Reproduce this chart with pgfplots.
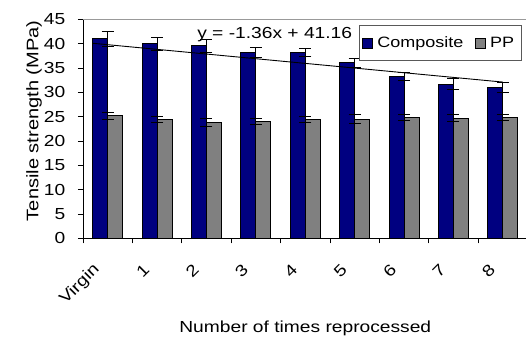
\documentclass[border=0pt]{standalone}
\usepackage{fontspec}
\setmainfont{Liberation Sans}[FakeStretch=1.2]
\usepackage{pgfplots}
\pgfplotsset{compat=1.18}
\definecolor{navybar}{HTML}{000080}
\definecolor{graybar}{HTML}{808080}
\newcommand{\chartfont}{\fontsize{16}{19}\selectfont}
\begin{document}
\begin{tikzpicture}
\path[use as bounding box] (-83pt,-98.7pt) rectangle (443pt,238.3pt);
\begin{axis}[
  at={(0,0)}, anchor=south west,
  scale only axis, width=444.6pt, height=219pt,
  xmin=-0.5, xmax=8.5, ymin=0, ymax=45,
  axis x line*=bottom, axis y line*=left,
  axis line style={black, line width=0.8pt, -},
  ytick={0,5,...,45},
  xtick={0,...,8},
  xticklabels={Virgin,1,2,3,4,5,6,7,8},
  minor xtick={-0.5,0.5,...,8.5},
  tick align=outside,
  major tick length=5pt, minor tick length=5pt,
  major x tick style={draw=none},
  minor x tick style={black, line width=0.8pt},
  ytick style={black, line width=0.8pt},
  /pgf/number format/assume math mode=true,
  tick label style={font=\chartfont},
  yticklabel style={inner sep=0pt, xshift=-12.5pt},
  xticklabel style={inner sep=0pt, xshift=-10.5pt, yshift=-24pt, rotate=45, anchor=east},
  every axis y label/.style={at={(axis description cs:-0.11,0.536)}, rotate=90, anchor=center, font=\fontsize{16.7}{20}\selectfont},
  every axis x label/.style={at={(axis description cs:0.5,-0.428)}, anchor=base, font=\chartfont},
  ylabel={Tensile strength (MPa)},
  xlabel={Number of times reprocessed},
  bar width=15pt,
  legend style={at={(axis description cs:0.621,0.974)}, anchor=north west,
    draw=gray!70!black, line width=0.8pt, font=\fontsize{15}{18}\selectfont,
    legend columns=2, inner xsep=3pt, inner ysep=6.5pt,
    nodes={inner xsep=4pt, inner ysep=5pt},
    /tikz/every even column/.append style={column sep=8pt}},
  legend image code/.code={\draw[#1, draw=black, line width=0.8pt] (0pt,-5pt) rectangle (10pt,5pt);},
]
\addplot[ybar, bar shift=-7.5pt, fill=navybar, draw=black, line width=0.8pt,
  error bars/.cd, y dir=both, y explicit,
  error bar style={black, line width=0.8pt},
  error mark options={rotate=90, mark size=6pt, line width=0.8pt, black}]
coordinates {
 (0,41.0) +- (0,1.5)
 (1,40.0) +- (0,1.3)
 (2,39.6) +- (0,1.3)
 (3,38.2) +- (0,1.1)
 (4,38.2) +- (0,0.8)
 (5,36.1) +- (0,0.9)
 (6,33.2) +- (0,0.8)
 (7,31.7) +- (0,1.1)
 (8,31.0) +- (0,1.1)
};
\addlegendentry{Composite}
\addplot[ybar, bar shift=7.5pt, fill=graybar, draw=black, line width=0.8pt,
  error bars/.cd, y dir=both, y explicit,
  error bar style={black, line width=0.8pt},
  error mark options={rotate=90, mark size=6pt, line width=0.8pt, black}]
coordinates {
 (0,25.2) +- (0,0.7)
 (1,24.5) +- (0,0.6)
 (2,23.8) +- (0,0.9)
 (3,24.1) +- (0,0.6)
 (4,24.4) +- (0,0.6)
 (5,24.5) +- (0,0.9)
 (6,24.8) +- (0,0.6)
 (7,24.7) +- (0,0.7)
 (8,24.8) +- (0,0.6)
};
\addlegendentry{PP}
\addplot[black, line width=0.9pt, forget plot] coordinates {(-0.30,40.07) (8.0,32.1)};
\draw[gray!80, line width=0.8pt] (rel axis cs:0,1) -- (rel axis cs:1,1);
\node[anchor=base west, inner sep=0pt, font=\chartfont] at (axis cs:1.81,41.1) {y = -1.36x + 41.16};
\end{axis}
\end{tikzpicture}
\end{document}
